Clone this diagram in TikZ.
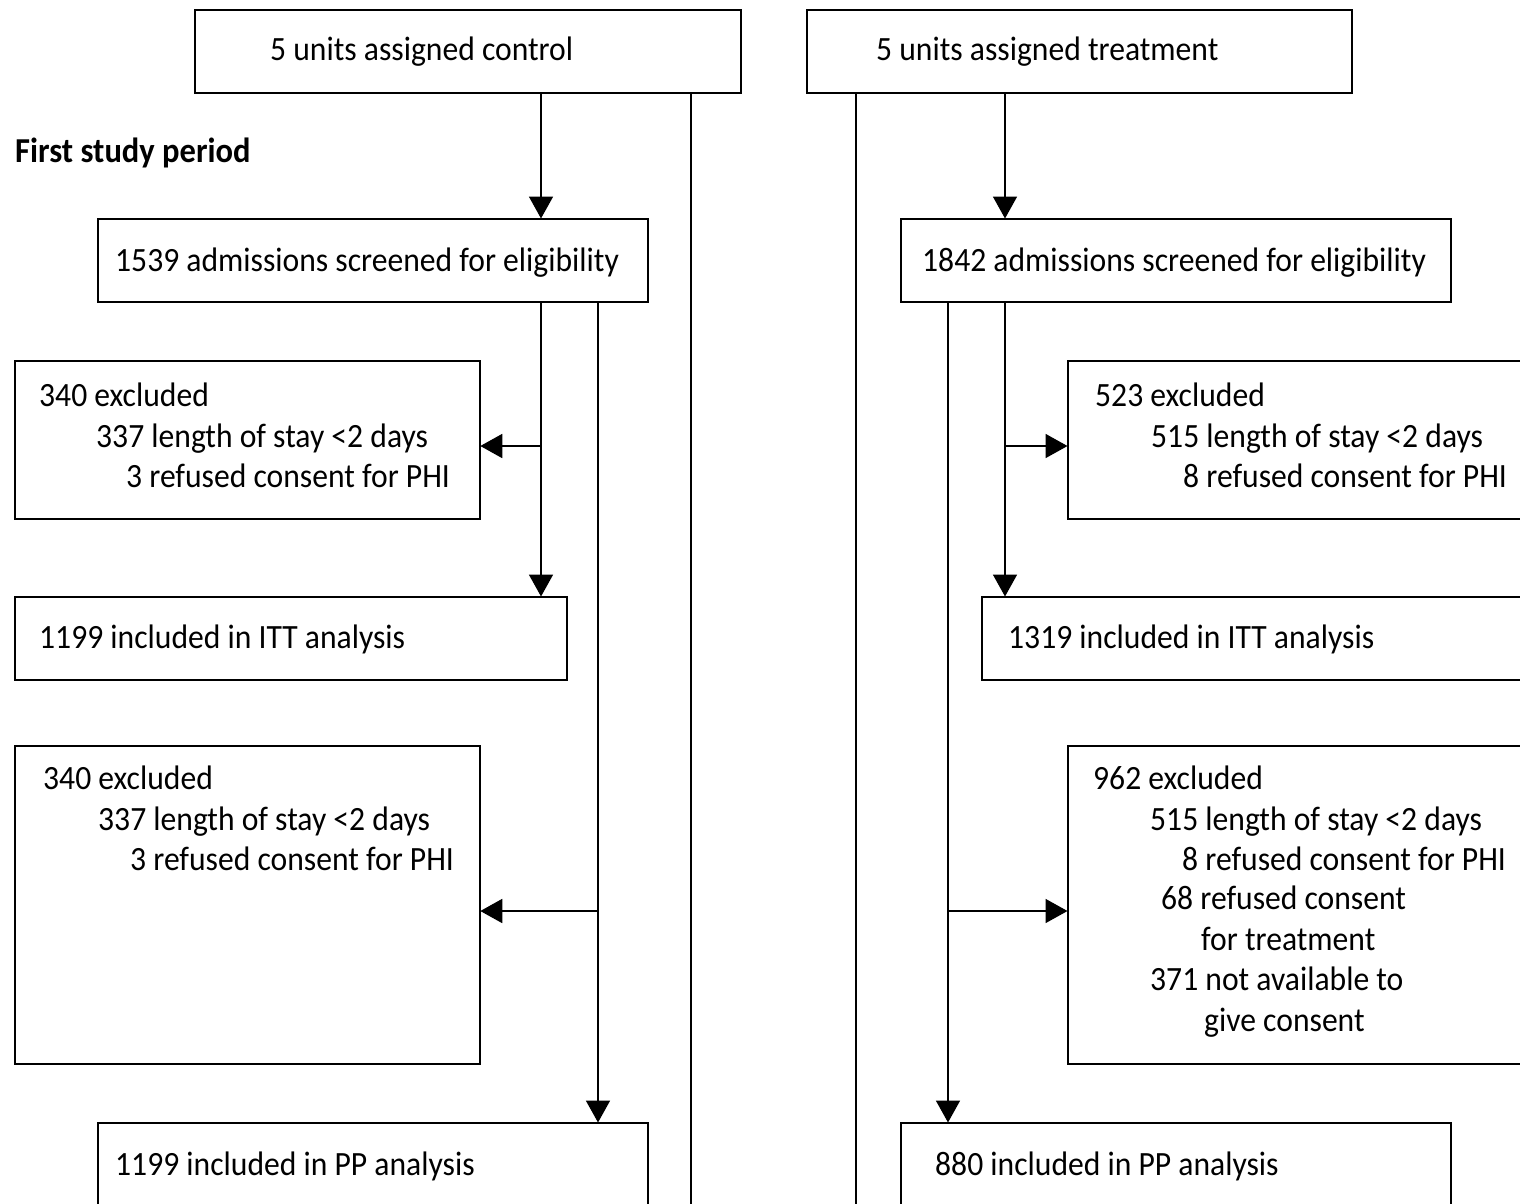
\documentclass[tikz,border=0pt]{standalone}
\usepackage{fontspec}
\setmainfont[FakeStretch=0.93]{Carlito}
\usetikzlibrary{arrows.meta}
\begin{document}
\begin{tikzpicture}[x=1pt,y=-1pt,
  box/.style={draw,line width=1.8pt,inner sep=0pt,anchor=north west},
  txt/.style={anchor=base west,inner sep=0pt,font=\fontsize{34}{40}\selectfont},
  conn/.style={line width=1.8pt},
  arr/.style={line width=1.8pt,-{Triangle[length=22pt,width=24pt]},shorten >=-0.5pt}]
\useasboundingbox (0,0) rectangle (1520,1203);
\clip (0,0) rectangle (1520,1203);
\fill[white] (0,0) rectangle (1520,1203);
% boxes
\node[box,minimum width=546pt,minimum height=83pt] (ctrl) at (194,9) {};
\node[box,minimum width=545pt,minimum height=83pt] (trt) at (806,9) {};
\node[box,minimum width=550pt,minimum height=83pt] (scrL) at (97,218) {};
\node[box,minimum width=550pt,minimum height=83pt] (scrR) at (900,218) {};
\node[box,minimum width=465pt,minimum height=158pt] (exAL) at (14,360) {};
\node[box,minimum width=480pt,minimum height=158pt] (exAR) at (1067,360) {};
\node[box,minimum width=552pt,minimum height=83pt] (ittL) at (14,596) {};
\node[box,minimum width=560pt,minimum height=83pt] (ittR) at (981,596) {};
\node[box,minimum width=465pt,minimum height=318pt] (exBL) at (14,745) {};
\node[box,minimum width=480pt,minimum height=318pt] (exBR) at (1067,745) {};
\node[box,minimum width=550pt,minimum height=100pt] (ppL) at (97,1122) {};
\node[box,minimum width=550pt,minimum height=100pt] (ppR) at (900,1122) {};
% texts
\node[txt] (t1) at (270,60) {5 units assigned control};
\node[txt] (t2) at (876,60) {5 units assigned treatment};
\node[txt,font=\fontsize{35}{40}\selectfont\bfseries] (t3) at (15,162) {First study period};
\node[txt] (t4) at (115,271) {1539 admissions screened for eligibility};
\node[txt] (t5) at (922,271) {1842 admissions screened for eligibility};
\node[txt] (t6) at (39,406) {340 excluded};
\node[txt] (t7) at (96,447) {337 length of stay <2 days};
\node[txt] (t8) at (126,487) {3 refused consent for PHI};
\node[txt] (t9) at (1095,406) {523 excluded};
\node[txt] (t10) at (1151,447) {515 length of stay <2 days};
\node[txt] (t11) at (1183,487) {8 refused consent for PHI};
\node[txt] (t12) at (39,648) {1199 included in ITT analysis};
\node[txt] (t13) at (1008,648) {1319 included in ITT analysis};
\node[txt] (t14) at (43,789) {340 excluded};
\node[txt] (t15) at (98,830) {337 length of stay <2 days};
\node[txt] (t16) at (130,870) {3 refused consent for PHI};
\node[txt] (t17) at (1093,789) {962 excluded};
\node[txt] (t18) at (1150,830) {515 length of stay <2 days};
\node[txt] (t19) at (1182,870) {8 refused consent for PHI};
\node[txt] (t20) at (1161,909) {68 refused consent};
\node[txt] (t21) at (1201,950) {for treatment};
\node[txt] (t22) at (1150,990) {371 not available to};
\node[txt] (t23) at (1204,1031) {give consent};
\node[txt] (t24) at (115,1175) {1199 included in PP analysis};
\node[txt] (t25) at (935,1175) {880 included in PP analysis};
% helper coordinates
\coordinate (botL) at (691,1210);
\coordinate (botR) at (856,1210);
\coordinate (bL1) at (541,446);
\coordinate (bL2) at (598,911);
\coordinate (bR1) at (1005,446);
\coordinate (bR2) at (948,911);
% connectors
\draw[arr] (ctrl.south -| bL1) -- (scrL.north -| bL1);
\draw[conn] (ctrl.south -| botL) -- (botL);
\draw[arr] (trt.south -| bR1) -- (scrR.north -| bR1);
\draw[conn] (trt.south -| botR) -- (botR);
\draw[arr] (scrL.south -| bL1) -- (ittL.north -| bL1);
\draw[arr] (bL1) -- (exAL.east |- bL1);
\draw[arr] (scrL.south -| bL2) -- (ppL.north -| bL2);
\draw[arr] (bL2) -- (exBL.east |- bL2);
\draw[arr] (scrR.south -| bR1) -- (ittR.north -| bR1);
\draw[arr] (bR1) -- (exAR.west |- bR1);
\draw[arr] (scrR.south -| bR2) -- (ppR.north -| bR2);
\draw[arr] (bR2) -- (exBR.west |- bR2);
\end{tikzpicture}
\end{document}
